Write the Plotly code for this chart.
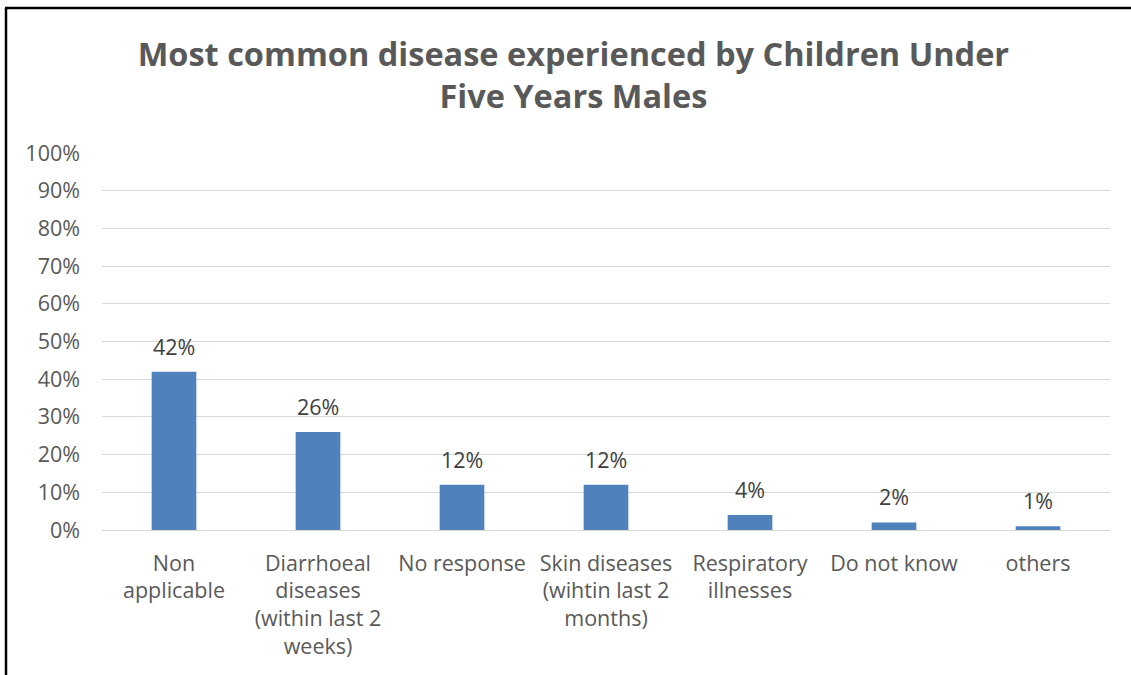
import plotly.graph_objects as go

# Survey responses: most common disease among male children under five
categories = [
    "Non<br>applicable",
    "Diarrhoeal<br>diseases<br>(within last 2<br>weeks)",
    "No response",
    "Skin diseases<br>(wihtin last 2<br>months)",
    "Respiratory<br>illnesses",
    "Do not know",
    "others",
]
percentages = [42, 26, 12, 12, 4, 2, 1]
y_ticks = [0, 10, 20, 30, 40, 50, 60, 70, 80, 90, 100]

title_text = "Most common disease experienced by Children Under<br>Five Years Males"

W, H = 1131, 675
ML, MR, MT, MB = 102, 21, 153, 145
FONT = "'Open Sans', 'Noto Sans', sans-serif"
TICK_SIZE = 21.5

fig = go.Figure()
fig.add_trace(go.Bar(
    x=categories,
    y=percentages,
    marker=dict(color="#4F81BD", line=dict(width=0)),
    width=0.31,
    hoverinfo="x+y",
))

# value labels above each bar
for c, v in zip(categories, percentages):
    fig.add_annotation(
        x=c, y=v, text=f"{v}%", showarrow=False,
        yanchor="bottom", yshift=9,
        font=dict(family=FONT, size=TICK_SIZE, color="#404040"),
    )

# frame lines along the top and left edges of the chart area
pw, ph = W - ML - MR, H - MT - MB
def px_x(p):
    return (p - ML) / pw
def px_y(p):
    return (H - MB - p) / ph

fig.add_shape(type="line", xref="paper", yref="paper",
              x0=px_x(5), x1=px_x(W + 5), y0=px_y(8), y1=px_y(8),
              line=dict(color="#000000", width=2.5))
fig.add_shape(type="line", xref="paper", yref="paper",
              x0=px_x(6), x1=px_x(6), y0=px_y(8), y1=px_y(H + 5),
              line=dict(color="#000000", width=2.5))

fig.update_layout(
    width=W, height=H,
    margin=dict(l=ML, r=MR, t=MT, b=MB),
    paper_bgcolor="white", plot_bgcolor="white",
    showlegend=False,
    title=dict(
        text=f"<b>{title_text}</b>",
        x=0.507, xanchor="center", y=1 - 66 / H, yanchor="top",
        font=dict(family=FONT, size=32.5, color="#595959"),
    ),
    xaxis=dict(
        type="category",
        showgrid=False, showline=False, zeroline=False,
        ticks="", tickfont=dict(family=FONT, size=TICK_SIZE, color="#595959"),
        ticklabelstandoff=18,
    ),
    yaxis=dict(
        range=[0, 100], tickvals=y_ticks,
        ticktext=[f"{t}%" for t in y_ticks],
        showgrid=True, gridcolor="#D9D9D9", gridwidth=1,
        zeroline=True, zerolinecolor="#D9D9D9", zerolinewidth=1,
        showline=False, ticks="",
        tickfont=dict(family=FONT, size=TICK_SIZE, color="#595959"),
        ticklabelstandoff=21,
    ),
)

fig.write_html("out.html")
